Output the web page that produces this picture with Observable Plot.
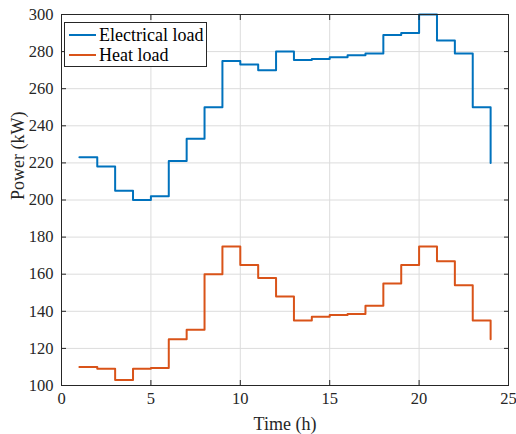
<!DOCTYPE html>
<html>
<head>
<meta charset="utf-8">
<script src="https://cdn.jsdelivr.net/npm/d3@7"></script>
<script src="https://cdn.jsdelivr.net/npm/@observablehq/plot@0.6"></script>
<style>
  html, body { margin: 0; padding: 0; background: #fff; }
  #wrap { position: relative; width: 516px; height: 434px; font-family: "Liberation Serif", "Times New Roman", serif; }
  #chart svg, #chart svg text { font-family: "Liberation Serif", "Times New Roman", serif !important; }
  #legend { position: absolute; left: 64px; top: 22px; width: 143px; height: 45px; border: 1px solid #262626; background: #fff; font-size: 18px; color: #000; box-sizing: border-box; }
  .row { position: absolute; left: 0; height: 20px; display: flex; align-items: center; white-space: nowrap; }
  .sw { width: 27px; height: 2px; margin-left: 4px; margin-right: 3px; }
</style>
</head>
<body>
<div id="wrap">
  <div id="chart"></div>
  <div id="legend"></div>
</div>
<script>
const hours = [1,2,3,4,5,6,7,8,9,10,11,12,13,14,15,16,17,18,19,20,21,22,23,24];
const electricalLoad = [223,218,205,200,202,221,233,250,275,273,270,280,275.5,276,277,278,279,289,290,300,286,279,250,220];
const heatLoad = [110,109,103,109,109.5,125,130,160,175,165,158,148,135,137,138,138.5,143,155,165,175,167,154,135,125];
const seriesNames = ["Electrical load", "Heat load"];
const seriesColors = ["#0072BD", "#D95319"];
const xTicks = [0,5,10,15,20,25];
const yTicks = [100,120,140,160,180,200,220,240,260,280,300];

const elecData = hours.map((h, i) => ({h, v: electricalLoad[i]}));
const heatData = hours.map((h, i) => ({h, v: heatLoad[i]}));
const serif = "Liberation Serif";
const tickOnly = { tickSize: -5, fill: "none", label: null, stroke: "#262626" };

const chart = Plot.plot({
  width: 516,
  height: 434,
  marginLeft: 61,
  marginRight: 8,
  marginTop: 14,
  marginBottom: 49,
  style: { fontFamily: "'Liberation Serif', 'Times New Roman', serif", fontSize: "16px", color: "#262626", background: "#fff" },
  x: { domain: [0, 25] },
  y: { domain: [100, 300] },
  marks: [
    Plot.gridX(xTicks, { stroke: "#dcdcdc", strokeOpacity: 1 }),
    Plot.gridY(yTicks, { stroke: "#dcdcdc", strokeOpacity: 1 }),
    Plot.line(elecData, { x: "h", y: "v", curve: "step-after", stroke: seriesColors[0], strokeWidth: 2 }),
    Plot.line(heatData, { x: "h", y: "v", curve: "step-after", stroke: seriesColors[1], strokeWidth: 2 }),
    Plot.frame({ stroke: "#262626", strokeWidth: 1 }),
    Plot.axisX(xTicks, { anchor: "bottom", ...tickOnly }),
    Plot.axisX(xTicks, { anchor: "top", ...tickOnly }),
    Plot.axisY(yTicks, { anchor: "left", ...tickOnly }),
    Plot.axisY(yTicks, { anchor: "right", ...tickOnly }),
    Plot.text(xTicks, { x: d => d, frameAnchor: "bottom", dy: 18, text: d => String(d), fontSize: 16.5, fill: "#262626", fontFamily: serif }),
    Plot.text(yTicks, { y: d => d, frameAnchor: "left", dx: -8, textAnchor: "end", text: d => String(d), fontSize: 16.5, fill: "#262626", fontFamily: serif }),
    Plot.text(["Time (h)"], { frameAnchor: "bottom", dy: 44, fontSize: 18, fill: "#262626", fontFamily: serif }),
    Plot.text(["Power (kW)"], { frameAnchor: "left", dx: -43, rotate: -90, fontSize: 18, fill: "#262626", fontFamily: serif })
  ]
});
document.getElementById("chart").appendChild(chart);

const legend = document.getElementById("legend");
seriesNames.forEach((name, i) => {
  const row = document.createElement("div");
  row.className = "row";
  row.style.top = (2 + i * 20) + "px";
  const sw = document.createElement("div");
  sw.className = "sw";
  sw.style.background = seriesColors[i];
  const t = document.createElement("span");
  t.textContent = name;
  row.appendChild(sw);
  row.appendChild(t);
  legend.appendChild(row);
});
</script>
</body>
</html>
